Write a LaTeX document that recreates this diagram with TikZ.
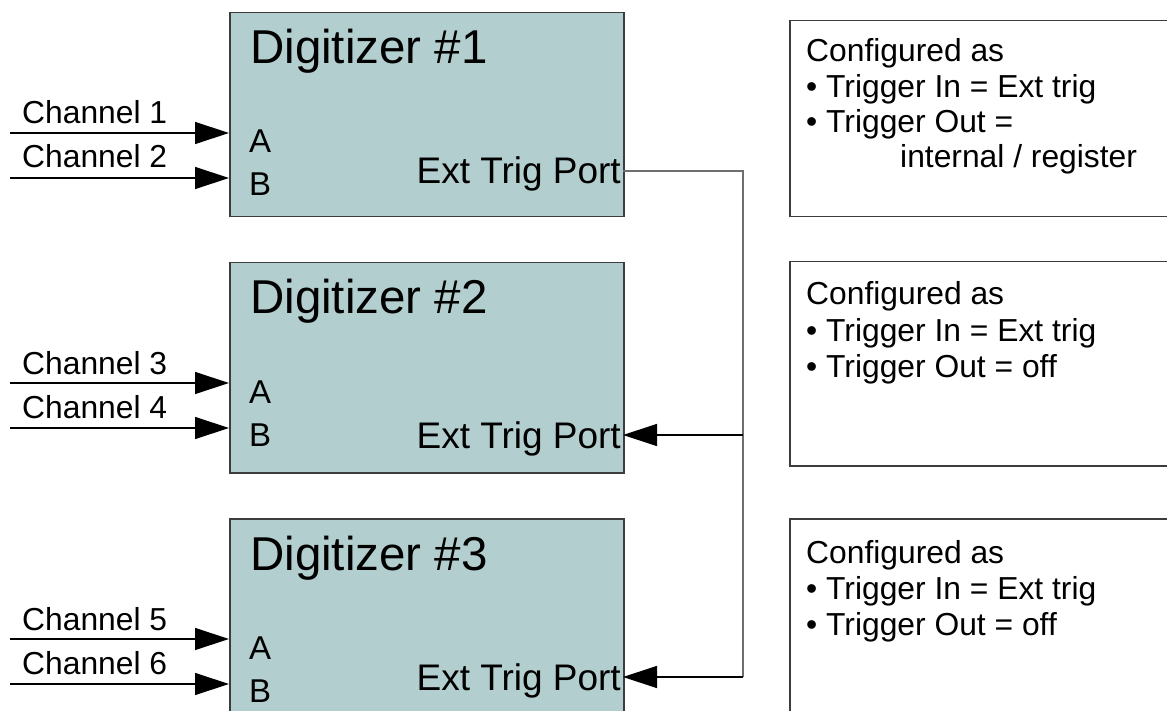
\documentclass[tikz,border=0pt]{standalone}
\usepackage{fontspec}
\setmainfont{Liberation Sans}
\usetikzlibrary{arrows.meta}
\definecolor{boxfill}{RGB}{179,206,206}
\definecolor{edge}{RGB}{60,60,60}
\definecolor{wire}{RGB}{110,110,110}
\begin{document}
\begin{tikzpicture}[x=1pt,y=-1pt,
  digi/.style={draw=edge, line width=1.5pt, fill=boxfill, anchor=north west, inner sep=0pt, minimum width=394pt},
  note/.style={draw=edge, line width=1.5pt, anchor=north west, inner sep=0pt, minimum width=420pt},
  big/.style={font=\fontsize{47.5}{56}\selectfont, anchor=base west, inner sep=0pt},
  lbl/.style={font=\fontsize{31.8}{38}\selectfont, anchor=base west, inner sep=0pt},
  io/.style={font=\fontsize{33}{40}\selectfont, anchor=base west, inner sep=0pt},
  portlbl/.style={font=\fontsize{37}{44}\selectfont, anchor=base east, inner sep=0pt},
  chan/.style={line width=1.3pt, draw=black, -{Triangle[length=34pt,width=22pt]}},
  feed/.style={line width=1.3pt, draw=black, -{Triangle[length=34pt,width=22pt]}},
  bus/.style={line width=1.4pt, draw=wire}]
\useasboundingbox (0,0) rectangle (1167,711);
\clip (0,0) rectangle (1167,711);

% digitizer boxes
\node[digi, minimum height=204pt] (d1) at (229,12) {};
\node[digi, minimum height=210pt] (d2) at (229,262) {};
\node[digi, minimum height=230pt] (d3) at (229,518) {};

\node[big] (t1) at (250,64) {Digitizer \#1};
\node[big] (t2) at (250,313) {Digitizer \#2};
\node[big] (t3) at (250,570) {Digitizer \#3};

% inputs A/B
\node[io] (a1) at (249,153) {A};
\node[io] (b1) at (249,196) {B};
\node[io] (a2) at (249,403) {A};
\node[io] (b2) at (249,446) {B};
\node[io] (a3) at (249,659) {A};
\node[io] (b3) at (249,702) {B};

% channel inputs
\coordinate (s1) at (10,133); \coordinate (e1) at (229,133);
\coordinate (s2) at (10,178); \coordinate (e2) at (229,178);
\coordinate (s3) at (10,383); \coordinate (e3) at (229,383);
\coordinate (s4) at (10,428); \coordinate (e4) at (229,428);
\coordinate (s5) at (10,639); \coordinate (e5) at (229,639);
\coordinate (s6) at (10,684); \coordinate (e6) at (229,684);
\draw[chan] (s1) -- (e1);
\draw[chan] (s2) -- (e2);
\draw[chan] (s3) -- (e3);
\draw[chan] (s4) -- (e4);
\draw[chan] (s5) -- (e5);
\draw[chan] (s6) -- (e6);
\node[lbl] (c1) at (22,124) {Channel 1};
\node[lbl] (c2) at (22,168) {Channel 2};
\node[lbl] (c3) at (22,374) {Channel 3};
\node[lbl] (c4) at (22,418) {Channel 4};
\node[lbl] (c5) at (22,630) {Channel 5};
\node[lbl] (c6) at (22,674) {Channel 6};

% ext trig ports
\coordinate (p1) at (623,171);
\coordinate (p2) at (623,435);
\coordinate (p3) at (623,677);
\node[portlbl] (x1) at (621,184) {Ext Trig Port};
\node[portlbl] (x2) at (621,448) {Ext Trig Port};
\node[portlbl] (x3) at (621,690) {Ext Trig Port};

\coordinate (j2) at (743,435);
\coordinate (j3) at (743,677);
\draw[bus] (p1) -| (j3);
\draw[feed] (j2) -- (p2);
\draw[feed] (j3) -- (p3);

% configuration notes
\node[note, minimum height=196pt] (r1) at (789,20) {};
\node[note, minimum height=204pt] (r2) at (789,261) {};
\node[note, minimum height=240pt] (r3) at (789,518) {};

\node[lbl] (n11) at (806,62) {Configured as};
\node[lbl] (n12) at (806,98) {• Trigger In = Ext trig};
\node[lbl] (n13) at (806,133) {• Trigger Out =};
\node[lbl] (n14) at (900,168) {internal / register};

\node[lbl] (n21) at (806,305) {Configured as};
\node[lbl] (n22) at (806,341) {• Trigger In = Ext trig};
\node[lbl] (n23) at (806,377) {• Trigger Out = off};

\node[lbl] (n31) at (806,563) {Configured as};
\node[lbl] (n32) at (806,599) {• Trigger In = Ext trig};
\node[lbl] (n33) at (806,635) {• Trigger Out = off};
\end{tikzpicture}
\end{document}
